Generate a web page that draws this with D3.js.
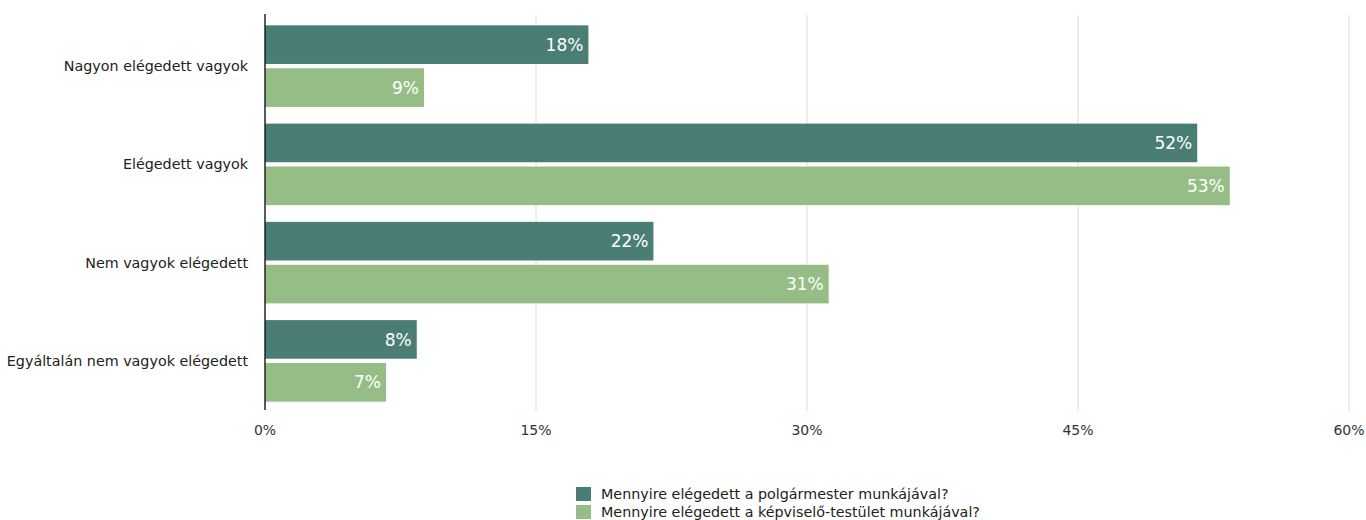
<!DOCTYPE html>
<html>
<head>
<meta charset="utf-8">
<script src="https://cdn.jsdelivr.net/npm/d3@7"></script>
<style>
  body { margin: 0; background: #fff; }
  svg { font-family: "DejaVu Sans", Arial, sans-serif; }
  .grid line { stroke: #dcdcdc; }
  .catLabel { font-size: 14.3px; fill: #222; }
  .tickLabel { font-size: 14px; fill: #333; }
  .valLabel { font-size: 17px; fill: #fff; }
  .legendText { font-size: 14.3px; fill: #222; }
</style>
</head>
<body>
<div id="chart"></div>
<script>
// data
var categories = ["Nagyon elégedett vagyok", "Elégedett vagyok", "Nem vagyok elégedett", "Egyáltalán nem vagyok elégedett"];
var seriesNames = ["Mennyire elégedett a polgármester munkájával?", "Mennyire elégedett a képviselő-testület munkájával?"];
var polgarmester = [17.9, 51.6, 21.5, 8.4];
var testulet = [8.8, 53.4, 31.2, 6.7];
var ticks = [0, 15, 30, 45, 60];
var colors = ["#4a7d74", "#97bd87"];

var width = 1366, height = 520;

var svg = d3.select("#chart").append("svg")
    .attr("width", width)
    .attr("height", height);

var x = d3.scaleLinear().domain([0, 60]).range([265, 1349]);

var y = d3.scaleBand().domain(categories).range([17, 410])
    .paddingInner(0.17).paddingOuter(0.085);

var y1 = d3.scaleBand().domain([0, 1]).range([0, y.bandwidth()]).paddingInner(0.1);

// build rows
var rows = categories.map(function (c, i) {
    return { cat: c, values: [polgarmester[i], testulet[i]] };
});

// gridlines
svg.append("g").attr("class", "grid")
    .selectAll("line")
    .data(ticks.slice(1))
    .enter().append("line")
    .attr("x1", function (d) { return x(d); })
    .attr("x2", function (d) { return x(d); })
    .attr("y1", 15)
    .attr("y2", 411);

// tick labels
svg.append("g")
    .selectAll("text")
    .data(ticks)
    .enter().append("text")
    .attr("class", "tickLabel")
    .attr("x", function (d) { return x(d); })
    .attr("y", 435)
    .attr("text-anchor", "middle")
    .text(function (d) { return d + "%"; });

// bars
var group = svg.append("g")
    .selectAll("g")
    .data(rows)
    .enter().append("g")
    .attr("transform", function (d) { return "translate(0," + y(d.cat) + ")"; });

var bar = group.selectAll("g")
    .data(function (d) { return d.values.map(function (v, k) { return { k: k, v: v }; }); })
    .enter().append("g");

bar.append("rect")
    .attr("x", x(0))
    .attr("y", function (d) { return y1(d.k); })
    .attr("width", function (d) { return x(d.v) - x(0); })
    .attr("height", y1.bandwidth())
    .attr("fill", function (d) { return colors[d.k]; });

bar.append("text")
    .attr("class", "valLabel")
    .attr("x", function (d) { return x(d.v) - 5; })
    .attr("y", function (d) { return y1(d.k) + y1.bandwidth() / 2; })
    .attr("dy", "0.36em")
    .attr("text-anchor", "end")
    .text(function (d) { return Math.round(d.v) + "%"; });

// category labels
svg.append("g")
    .selectAll("text")
    .data(categories)
    .enter().append("text")
    .attr("class", "catLabel")
    .attr("x", 248)
    .attr("y", function (d) { return y(d) + y.bandwidth() / 2; })
    .attr("dy", "0.35em")
    .attr("text-anchor", "end")
    .text(function (d) { return d; });

// the vertical axis line
svg.append("line")
    .attr("x1", x(0)).attr("x2", x(0))
    .attr("y1", 14).attr("y2", 410)
    .attr("stroke", "#222")
    .attr("stroke-width", 1.5);

// legend
var legend = svg.append("g")
    .selectAll("g")
    .data(seriesNames)
    .enter().append("g")
    .attr("transform", function (d, i) { return "translate(576," + (487 + i * 18) + ")"; });

legend.append("rect")
    .attr("width", 15)
    .attr("height", 14)
    .attr("fill", function (d, i) { return colors[i]; });

legend.append("text")
    .attr("class", "legendText")
    .attr("x", 25)
    .attr("y", 7)
    .attr("dy", "0.35em")
    .text(function (d) { return d; });
</script>
</body>
</html>
